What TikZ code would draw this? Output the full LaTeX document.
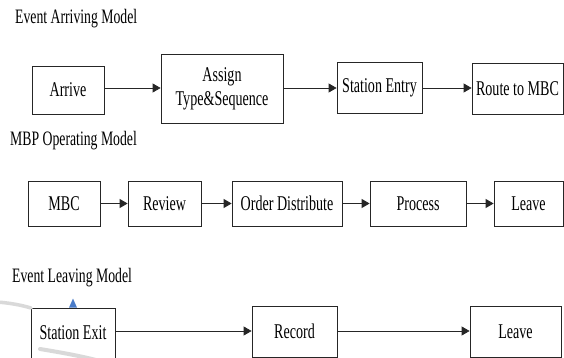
\documentclass[tikz,border=0pt]{standalone}
\usepackage{fontspec}
\setmainfont{Liberation Serif}
\usepackage{graphicx}
\usetikzlibrary{arrows.meta}

% narrow serif lettering
\newcommand\sqz[1]{\scalebox{0.67}[1]{#1}}
\definecolor{markblue}{HTML}{4A7CC9}

\tikzset{
  stagebox/.style={draw=black!85, fill=white, line width=0.8pt, inner sep=0pt,
    font=\fontsize{21}{24}\selectfont},
  flow/.style={draw=black!85, line width=0.8pt, -{Triangle[length=8pt,width=9pt]}},
  heading/.style={anchor=base west, inner sep=0pt, font=\fontsize{20.5}{24}\selectfont},
  watermark/.style={draw=black!15, line cap=round}
}

\begin{document}
\begin{tikzpicture}[x=1pt,y=-1pt]
\useasboundingbox[fill=white] (0,0) rectangle (564,358);

% headings
\node[heading] (h1) at (15,24) {\sqz{Event Arriving Model}};
\node[heading] (h2) at (10,146) {\sqz{MBP Operating Model}};
\node[heading] (h3) at (12,282) {\sqz{Event Leaving Model}};

% event arriving model
\node[stagebox, minimum width=72pt, minimum height=48pt] (arrive) at (68,90) {\sqz{Arrive}};
\node[stagebox, minimum width=122pt, minimum height=69pt] (assign) at (222,88.5)
  {\sqz{\begin{tabular}{@{}c@{}}Assign\\Type\&Sequence\end{tabular}}};
\node[stagebox, minimum width=85pt, minimum height=51pt] (entry) at (379.5,87.5) {\sqz{Station Entry}};
\node[stagebox, minimum width=91pt, minimum height=51pt] (route) at (517.5,88.5) {\sqz{Route to MBC}};

\coordinate (r1) at (0,88);
\draw[flow] (arrive.east |- r1) -- (assign.west |- r1);
\draw[flow] (assign.east |- r1) -- (entry.west |- r1);
\draw[flow] (entry.east |- r1) -- (route.west |- r1);

% MBP operating model
\tikzset{rowtwo/.style={stagebox, minimum height=45pt}}
\node[rowtwo, minimum width=72pt] (mbc) at (64,203.5) {\sqz{MBC}};
\node[rowtwo, minimum width=73pt] (review) at (164.5,203.5) {\sqz{Review}};
\node[rowtwo, minimum width=110pt] (order) at (287,203.5) {\sqz{Order Distribute}};
\node[rowtwo, minimum width=96pt] (process) at (418,203.5) {\sqz{Process}};
\node[rowtwo, minimum width=69pt] (leaveA) at (528.5,203.5) {\sqz{Leave}};

\draw[flow] (mbc) -- (review);
\draw[flow] (review) -- (order);
\draw[flow] (order) -- (process);
\draw[flow] (process) -- (leaveA);

% event leaving model
\node[stagebox, minimum width=84pt, minimum height=50pt] (exit) at (73,333) {\sqz{Station Exit}};
\node[stagebox, minimum width=85pt, minimum height=51pt] (record) at (294.5,331.5) {\sqz{Record}};
\node[stagebox, minimum width=91pt, minimum height=51pt] (leaveB) at (515.5,331.5) {\sqz{Leave}};

\coordinate (r3) at (0,331);
\draw[flow] (exit.east |- r3) -- (record.west |- r3);
\draw[flow] (record.east |- r3) -- (leaveB.west |- r3);

% faint watermark strokes at the lower left
\draw[watermark, line width=3.5pt] (-3,302) .. controls (10,303) and (21,305) .. (31,308);
\draw[watermark, line width=4pt] (40,349) .. controls (58,352) and (76,355) .. (96,360);

% small blue marker on the exit box
\fill[markblue] ([xshift=-4pt]exit.north) -- ([xshift=4pt]exit.north) -- ([yshift=9pt]exit.north) -- cycle;
\end{tikzpicture}
\end{document}
